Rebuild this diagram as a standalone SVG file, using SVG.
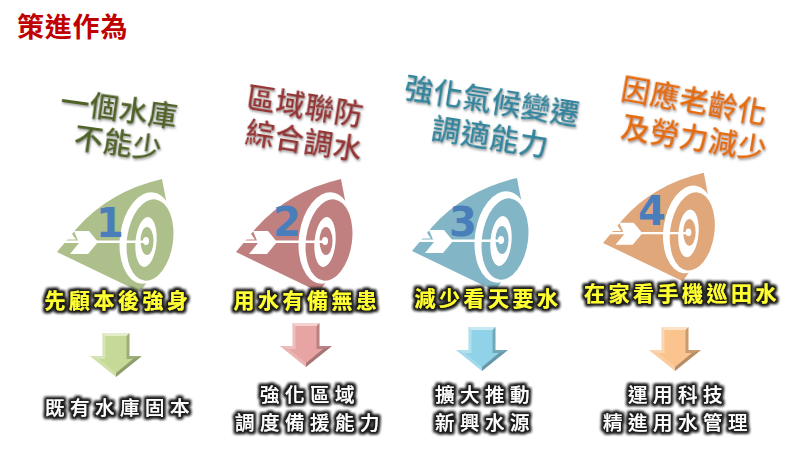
<svg xmlns="http://www.w3.org/2000/svg" xmlns:xlink="http://www.w3.org/1999/xlink" width="800" height="454" viewBox="0 0 800 454">
<style>
text{font-family:"Noto Sans CJK TC","Noto Sans CJK SC",sans-serif;text-anchor:middle}
.title{font-size:27px;font-weight:700;fill:#c00000;text-anchor:start;letter-spacing:.8px}
.head{font-size:29px;font-weight:500;letter-spacing:.5px;filter:url(#soft)}
.yl{font-size:21px;font-weight:700;fill:#ffff33;letter-spacing:3.5px;filter:url(#glow)}
.wl{font-size:19.500px;font-weight:500;fill:#fff;letter-spacing:5.500px;filter:url(#glow)}
.num{font-family:"DejaVu Sans",sans-serif;font-size:40px;font-weight:700;fill:#4a7ebb}
.w{fill:#fff}
.c{fill:currentColor}
</style>
<defs>
<filter id="soft" x="-10%" y="-20%" width="120%" height="150%"><feDropShadow dx="1" dy="1.5" stdDeviation="1" flood-color="#555" flood-opacity=".6"/></filter>
<filter id="glow" x="-10%" y="-30%" width="120%" height="160%">
<feMorphology in="SourceAlpha" operator="dilate" radius="1.6" result="d"/>
<feGaussianBlur in="d" stdDeviation="1.4" result="b"/>
<feFlood flood-color="#1c1c1c"/><feComposite in2="b" operator="in" result="s"/>
<feMerge><feMergeNode in="s"/><feMergeNode in="s"/><feMergeNode in="SourceGraphic"/></feMerge>
</filter>
<g id="target">
<path class="c" d="M57,252 L77,228 Q110,191 162,179 L166,200 L172,240 L152,275 L140,292 Z"/>
<ellipse class="w" cx="147" cy="238" rx="27" ry="46" transform="rotate(8 147 238)"/>
<ellipse class="c" cx="150" cy="240" rx="23" ry="41" transform="rotate(8 150 240)"/>
<ellipse class="w" cx="146" cy="242" rx="10.500" ry="25" transform="rotate(5 146 242)"/>
<ellipse class="c" cx="147" cy="241" rx="6.500" ry="14"/>
<ellipse class="w" cx="146" cy="241" rx="3" ry="4"/>
<path class="w" d="M63,240.500 H146 V243 H63 Z"/>
<path class="w" d="M74,231 H89 L98,242 L88,254 H70 L79,243 Z"/>
<path class="w" d="M66,239.500 L71,232.500 L76,239.500 Z"/>
</g>
<g id="arrow">
<path class="c" d="M-13.500,0 H13.500 V23 H26 L0,44 L-26,23 H-13.500 Z"/>
<path d="M-13.500,0 H13.500 L10.500,3 H-10.500 Z" fill="#fff" fill-opacity=".5"/>
<path d="M-13.500,0 L-10.500,3 V26 H-17 L-26,23 H-13.500 Z" fill="#fff" fill-opacity=".3"/>
<path d="M13.500,0 L10.500,3 V26 H17 L26,23 H13.500 Z" fill="#000" fill-opacity=".2"/>
<path d="M-26,23 L0,44 L0,40 L-17,26 Z" fill="#fff" fill-opacity=".18"/>
<path d="M26,23 L0,44 L0,40 L17,26 Z" fill="#000" fill-opacity=".28"/>
</g>
</defs>
<rect width="800" height="454" fill="#fff"/>
<g id="title"><text class="title" x="17" y="37">策進作為</text></g>

<g id="node-1">
<g transform="translate(119 110) rotate(8)"><text class="head" fill="#4f6228" y="10">一個水庫</text></g>
<g transform="translate(118 144) rotate(8)"><text class="head" fill="#4f6228" y="10">不能少</text></g>
<use href="#target" color="#adbf8a"/>
<text class="num" x="110" y="237">1</text>
<text class="yl" x="118" y="308">先顧本後強身</text>
<text class="wl" x="120" y="415">既有水庫固本</text>
</g>

<g id="node-2">
<g transform="translate(305 107) rotate(9)"><text class="head" fill="#943634" y="10">區域聯防</text></g>
<g transform="translate(304 142) rotate(9)"><text class="head" fill="#943634" y="10">綜合調水</text></g>
<use href="#target" x="179" color="#c08080"/>
<text class="num" x="287" y="236">2</text>
<text class="yl" x="307" y="308">用水有備無患</text>
<text class="wl" x="310" y="402">強化區域</text>
<text class="wl" x="310" y="430">調度備援能力</text>
</g>

<g id="node-3">
<g transform="translate(492 102) rotate(9)"><text class="head" fill="#31859c" y="10">強化氣候變遷</text></g>
<g transform="translate(490 138) rotate(9)"><text class="head" fill="#31859c" y="10">調適能力</text></g>
<use href="#target" x="355" y="-1" color="#82b5c5"/>
<text class="num" x="463" y="236">3</text>
<text class="yl" x="488" y="306">減少看天要水</text>
<text class="wl" x="485" y="402">擴大推動</text>
<text class="wl" x="485" y="430">新興水源</text>
</g>

<g id="node-4">
<g transform="translate(694 102) rotate(10)"><text class="head" fill="#e36c0a" y="10">因應老齡化</text></g>
<g transform="translate(694 139) rotate(9)"><text class="head" fill="#e36c0a" y="10">及勞力減少</text></g>
<use href="#target" transform="translate(548.300 1) scale(.96)" color="#dfa77a"/>
<text class="num" x="652" y="225">4</text>
<text class="yl" x="682" y="301">在家看手機巡田水</text>
<text class="wl" x="678" y="402">運用科技</text>
<text class="wl" x="678" y="430">精進用水管理</text>
</g>

<g id="connectors">
<use href="#arrow" transform="translate(116 333)" color="#c6da97"/>
<use href="#arrow" transform="translate(306 323)" color="#e8a3a3"/>
<use href="#arrow" transform="translate(482 327)" color="#90d3e8"/>
<use href="#arrow" transform="translate(675 327)" color="#fbc48e"/>
</g>
</svg>
